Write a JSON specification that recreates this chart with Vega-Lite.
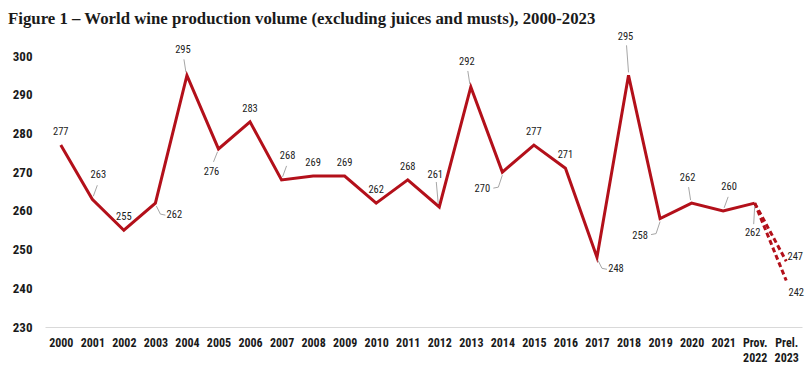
{
  "$schema": "https://vega.github.io/schema/vega-lite/v6.json",
  "width": 757,
  "height": 271,
  "autosize": {"type": "none"},
  "padding": {"left": 45, "top": 56, "right": 6, "bottom": 48},
  "background": "white",
  "config": {"view": {"stroke": null}},
  "title": {
    "text": "Figure 1 – World wine production volume (excluding juices and musts), 2000-2023",
    "anchor": "start",
    "frame": "group",
    "dx": -37,
    "offset": -8,
    "baseline": "alphabetic",
    "font": "Liberation Serif",
    "fontSize": 16.8,
    "fontWeight": "bold",
    "color": "#1a1a1a"
  },
  "datasets": {
    "main": [
      {"yr": "2000", "v": 277, "pos": "T"},
      {"yr": "2001", "v": 263, "pos": "TR"},
      {"yr": "2002", "v": 255, "pos": "T"},
      {"yr": "2003", "v": 262, "pos": "BR"},
      {"yr": "2004", "v": 295, "pos": "TL"},
      {"yr": "2005", "v": 276, "pos": "B5"},
      {"yr": "2006", "v": 283, "pos": "T"},
      {"yr": "2007", "v": 268, "pos": "TR"},
      {"yr": "2008", "v": 269, "pos": "T"},
      {"yr": "2009", "v": 269, "pos": "T"},
      {"yr": "2010", "v": 262, "pos": "T"},
      {"yr": "2011", "v": 268, "pos": "T"},
      {"yr": "2012", "v": 261, "pos": "TT2"},
      {"yr": "2013", "v": 292, "pos": "TL"},
      {"yr": "2014", "v": 270, "pos": "BL"},
      {"yr": "2015", "v": 277, "pos": "T"},
      {"yr": "2016", "v": 271, "pos": "T"},
      {"yr": "2017", "v": 248, "pos": "BR"},
      {"yr": "2018", "v": 295, "pos": "TT1"},
      {"yr": "2019", "v": 258, "pos": "BL"},
      {"yr": "2020", "v": 262, "pos": "TL"},
      {"yr": "2021", "v": 260, "pos": "TR"},
      {"yr": "Prov. 2022", "v": 262, "pos": "B"}
    ],
    "proj": [
      {"yr": "Prov. 2022", "v": 262, "s": "high", "pos": "none"},
      {"yr": "Prel. 2023", "v": 247, "s": "high", "pos": "E1"},
      {"yr": "Prov. 2022", "v": 262, "s": "low", "pos": "none"},
      {"yr": "Prel. 2023", "v": 242, "s": "low", "pos": "E2"}
    ]
  },
  "encoding": {
    "x": {
      "field": "yr",
      "type": "ordinal",
      "scale": {
        "type": "point",
        "padding": 0.5,
        "domain": ["2000", "2001", "2002", "2003", "2004", "2005", "2006", "2007", "2008", "2009", "2010", "2011", "2012", "2013", "2014", "2015", "2016", "2017", "2018", "2019", "2020", "2021", "Prov. 2022", "Prel. 2023"]
      },
      "axis": {
        "title": null,
        "domainColor": "#d9d9d9",
        "domainWidth": 1,
        "ticks": false,
        "tickSize": 0,
        "labelPadding": 10,
        "labelAngle": 0,
        "labelFont": "Liberation Sans Narrow, Roboto Condensed, DejaVu Sans Condensed, sans-serif",
        "labelFontSize": 12,
        "labelFontWeight": "bold",
        "labelColor": "#1a1a1a",
        "labelExpr": "split(datum.label, ' ')",
        "labelLineHeight": 15
      }
    },
    "y": {
      "field": "v",
      "type": "quantitative",
      "scale": {"domain": [230, 300], "nice": false, "zero": false},
      "axis": {
        "title": null,
        "domain": false,
        "ticks": false,
        "tickSize": 0,
        "grid": false,
        "values": [230, 240, 250, 260, 270, 280, 290, 300],
        "labelPadding": 13,
        "labelFont": "Liberation Sans Narrow, Roboto Condensed, DejaVu Sans Condensed, sans-serif",
        "labelFontSize": 13,
        "labelFontWeight": "bold",
        "labelColor": "#1a1a1a"
      }
    }
  },
  "layer": [
    {
      "data": {"name": "main"},
      "mark": {"type": "line", "color": "#B3101A", "strokeWidth": 3, "strokeJoin": "miter"}
    },
    {
      "data": {"name": "proj"},
      "mark": {"type": "line", "color": "#B3101A", "strokeWidth": 3, "strokeDash": [5, 3]},
      "encoding": {"detail": {"field": "s"}}
    },
    {
      "data": {"name": "main"},
      "transform": [{"filter": {"field": "pos", "oneOf": ["TL"]}}],
      "mark": {"type": "rule", "color": "#a6a6a6", "strokeWidth": 1, "xOffset": -1, "yOffset": -3, "x2Offset": -3, "y2Offset": -16},
      "encoding": {"x2": {"field": "yr"}, "y2": {"field": "v"}}
    },
    {
      "data": {"name": "main"},
      "transform": [{"filter": {"field": "pos", "oneOf": ["TR"]}}],
      "mark": {"type": "rule", "color": "#a6a6a6", "strokeWidth": 1, "xOffset": 1, "yOffset": -3, "x2Offset": 5, "y2Offset": -14},
      "encoding": {"x2": {"field": "yr"}, "y2": {"field": "v"}}
    },
    {
      "data": {"name": "main"},
      "transform": [{"filter": {"field": "pos", "oneOf": ["TT1"]}}],
      "mark": {"type": "rule", "color": "#a6a6a6", "strokeWidth": 1, "xOffset": 0, "yOffset": -3, "x2Offset": -2, "y2Offset": -30},
      "encoding": {"x2": {"field": "yr"}, "y2": {"field": "v"}}
    },
    {
      "data": {"name": "main"},
      "transform": [{"filter": {"field": "pos", "oneOf": ["TT2"]}}],
      "mark": {"type": "rule", "color": "#a6a6a6", "strokeWidth": 1, "xOffset": -1, "yOffset": -3, "x2Offset": -3, "y2Offset": -25},
      "encoding": {"x2": {"field": "yr"}, "y2": {"field": "v"}}
    },
    {
      "data": {"name": "main"},
      "transform": [{"filter": {"field": "pos", "oneOf": ["BL"]}}],
      "mark": {"type": "rule", "color": "#a6a6a6", "strokeWidth": 1, "xOffset": 0, "yOffset": 3, "x2Offset": -4, "y2Offset": 15},
      "encoding": {"x2": {"field": "yr"}, "y2": {"field": "v"}}
    },
    {
      "data": {"name": "main"},
      "transform": [{"filter": {"field": "pos", "oneOf": ["BL"]}}],
      "mark": {"type": "rule", "color": "#a6a6a6", "strokeWidth": 1, "xOffset": -4, "yOffset": 15, "x2Offset": -9, "y2Offset": 16},
      "encoding": {"x2": {"field": "yr"}, "y2": {"field": "v"}}
    },
    {
      "data": {"name": "main"},
      "transform": [{"filter": {"field": "pos", "oneOf": ["B5"]}}],
      "mark": {"type": "rule", "color": "#a6a6a6", "strokeWidth": 1, "xOffset": -1, "yOffset": 3, "x2Offset": -5, "y2Offset": 13},
      "encoding": {"x2": {"field": "yr"}, "y2": {"field": "v"}}
    },
    {
      "data": {"name": "main"},
      "transform": [{"filter": {"field": "pos", "oneOf": ["BR"]}}],
      "mark": {"type": "rule", "color": "#a6a6a6", "strokeWidth": 1, "xOffset": 1, "yOffset": 3, "x2Offset": 5, "y2Offset": 11},
      "encoding": {"x2": {"field": "yr"}, "y2": {"field": "v"}}
    },
    {
      "data": {"name": "main"},
      "transform": [{"filter": {"field": "pos", "oneOf": ["BR"]}}],
      "mark": {"type": "rule", "color": "#a6a6a6", "strokeWidth": 1, "xOffset": 5, "yOffset": 11, "x2Offset": 10, "y2Offset": 12},
      "encoding": {"x2": {"field": "yr"}, "y2": {"field": "v"}}
    },
    {
      "data": {"name": "main"},
      "transform": [{"filter": {"field": "pos", "oneOf": ["B"]}}],
      "mark": {"type": "rule", "color": "#a6a6a6", "strokeWidth": 1, "xOffset": 0, "yOffset": 3, "x2Offset": -1, "y2Offset": 21},
      "encoding": {"x2": {"field": "yr"}, "y2": {"field": "v"}}
    },
    {
      "data": {"name": "main"},
      "transform": [{"filter": {"field": "pos", "oneOf": ["T"]}}],
      "mark": {"type": "text", "font": "Liberation Sans Narrow, Roboto Condensed, DejaVu Sans Condensed, sans-serif", "fontSize": 10.5, "color": "#222222", "baseline": "middle", "align": "center", "dx": 0, "dy": -13},
      "encoding": {"text": {"field": "v"}}
    },
    {
      "data": {"name": "main"},
      "transform": [{"filter": {"field": "pos", "oneOf": ["TL"]}}],
      "mark": {"type": "text", "font": "Liberation Sans Narrow, Roboto Condensed, DejaVu Sans Condensed, sans-serif", "fontSize": 10.5, "color": "#222222", "baseline": "middle", "align": "center", "dx": -4, "dy": -25},
      "encoding": {"text": {"field": "v"}}
    },
    {
      "data": {"name": "main"},
      "transform": [{"filter": {"field": "pos", "oneOf": ["TR"]}}],
      "mark": {"type": "text", "font": "Liberation Sans Narrow, Roboto Condensed, DejaVu Sans Condensed, sans-serif", "fontSize": 10.5, "color": "#222222", "baseline": "middle", "align": "center", "dx": 6, "dy": -24},
      "encoding": {"text": {"field": "v"}}
    },
    {
      "data": {"name": "main"},
      "transform": [{"filter": {"field": "pos", "oneOf": ["TT1"]}}],
      "mark": {"type": "text", "font": "Liberation Sans Narrow, Roboto Condensed, DejaVu Sans Condensed, sans-serif", "fontSize": 10.5, "color": "#222222", "baseline": "middle", "align": "center", "dx": -3, "dy": -38},
      "encoding": {"text": {"field": "v"}}
    },
    {
      "data": {"name": "main"},
      "transform": [{"filter": {"field": "pos", "oneOf": ["TT2"]}}],
      "mark": {"type": "text", "font": "Liberation Sans Narrow, Roboto Condensed, DejaVu Sans Condensed, sans-serif", "fontSize": 10.5, "color": "#222222", "baseline": "middle", "align": "center", "dx": -4, "dy": -32},
      "encoding": {"text": {"field": "v"}}
    },
    {
      "data": {"name": "main"},
      "transform": [{"filter": {"field": "pos", "oneOf": ["BL"]}}],
      "mark": {"type": "text", "font": "Liberation Sans Narrow, Roboto Condensed, DejaVu Sans Condensed, sans-serif", "fontSize": 10.5, "color": "#222222", "baseline": "middle", "align": "center", "dx": -20, "dy": 17},
      "encoding": {"text": {"field": "v"}}
    },
    {
      "data": {"name": "main"},
      "transform": [{"filter": {"field": "pos", "oneOf": ["B5"]}}],
      "mark": {"type": "text", "font": "Liberation Sans Narrow, Roboto Condensed, DejaVu Sans Condensed, sans-serif", "fontSize": 10.5, "color": "#222222", "baseline": "middle", "align": "center", "dx": -7, "dy": 23},
      "encoding": {"text": {"field": "v"}}
    },
    {
      "data": {"name": "main"},
      "transform": [{"filter": {"field": "pos", "oneOf": ["BR"]}}],
      "mark": {"type": "text", "font": "Liberation Sans Narrow, Roboto Condensed, DejaVu Sans Condensed, sans-serif", "fontSize": 10.5, "color": "#222222", "baseline": "middle", "align": "center", "dx": 19, "dy": 12},
      "encoding": {"text": {"field": "v"}}
    },
    {
      "data": {"name": "main"},
      "transform": [{"filter": {"field": "pos", "oneOf": ["B"]}}],
      "mark": {"type": "text", "font": "Liberation Sans Narrow, Roboto Condensed, DejaVu Sans Condensed, sans-serif", "fontSize": 10.5, "color": "#222222", "baseline": "middle", "align": "center", "dx": -2, "dy": 30},
      "encoding": {"text": {"field": "v"}}
    },
    {
      "data": {"name": "proj"},
      "transform": [{"filter": {"field": "pos", "oneOf": ["E1"]}}],
      "mark": {"type": "text", "font": "Liberation Sans Narrow, Roboto Condensed, DejaVu Sans Condensed, sans-serif", "fontSize": 10.5, "color": "#222222", "baseline": "middle", "align": "center", "dx": 9, "dy": -4},
      "encoding": {"text": {"field": "v"}}
    },
    {
      "data": {"name": "proj"},
      "transform": [{"filter": {"field": "pos", "oneOf": ["E2"]}}],
      "mark": {"type": "text", "font": "Liberation Sans Narrow, Roboto Condensed, DejaVu Sans Condensed, sans-serif", "fontSize": 10.5, "color": "#222222", "baseline": "middle", "align": "center", "dx": 10, "dy": 12},
      "encoding": {"text": {"field": "v"}}
    }
  ]
}
